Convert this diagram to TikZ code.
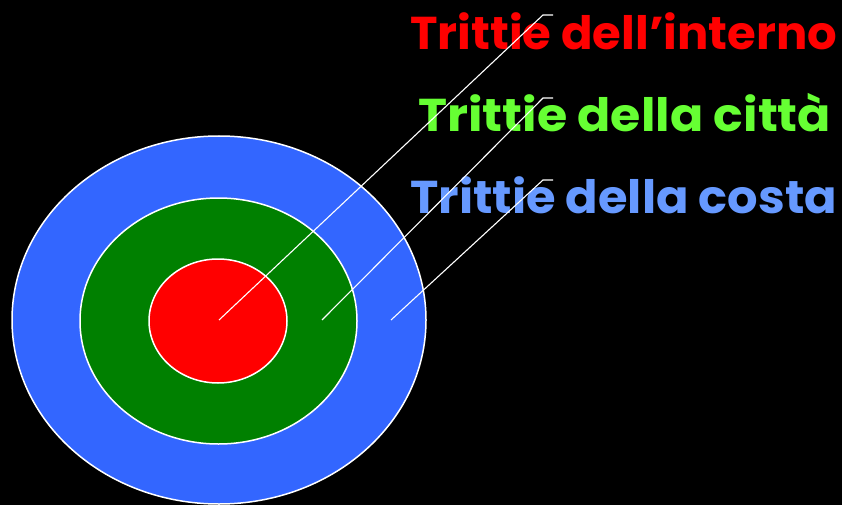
\documentclass[tikz,border=0pt]{standalone}
\usepackage{fontspec}
\usepackage{graphicx}
\setmainfont{Poppins}
\definecolor{ringblue}{RGB}{51,102,255}
\definecolor{ringgreen}{RGB}{0,128,0}
\definecolor{ringred}{RGB}{255,0,0}
\definecolor{txtred}{RGB}{255,0,0}
\definecolor{txtgreen}{RGB}{102,255,51}
\definecolor{txtblue}{RGB}{102,153,255}
\begin{document}
\begin{tikzpicture}[x=1pt,y=-1pt,
  ring/.style={draw=white,line width=1.5pt},
  leader/.style={draw=white,line width=1.1pt},
  lbl/.style={anchor=base west,inner sep=0pt,font=\bfseries\fontsize{46}{50}\selectfont}]
\fill[black] (0,0) rectangle (842,505);
\useasboundingbox (0,0) rectangle (842,505);
\draw[ring,fill=ringblue] (219,320) ellipse [x radius=207,y radius=184];
\draw[ring,fill=ringgreen] (218.5,321) ellipse [x radius=138.5,y radius=123];
\draw[ring,fill=ringred] (218,321) ellipse [x radius=69,y radius=62];
\node[lbl,text=txtred] (t1) at (410,50) {\resizebox{427pt}{\height}{Trittie dell’interno}};
\node[lbl,text=txtgreen] (t2) at (418,132) {\resizebox{413pt}{\height}{Trittie della città}};
\node[lbl,text=txtblue] (t3) at (410,213) {\resizebox{427pt}{\height}{Trittie della costa}};
\coordinate (s1) at (219,320);
\coordinate (s2) at (322,320);
\coordinate (s3) at (391,320);
\coordinate (k1) at (543,15);
\coordinate (k2) at (543,98);
\coordinate (k3) at (543,180);
\coordinate (e1) at (553,15);
\coordinate (e2) at (553,98);
\coordinate (e3) at (553,180);
\draw[leader] (s1) -- (k1) -- (e1);
\draw[leader] (s2) -- (k2) -- (e2);
\draw[leader] (s3) -- (k3) -- (e3);
\end{tikzpicture}
\end{document}
